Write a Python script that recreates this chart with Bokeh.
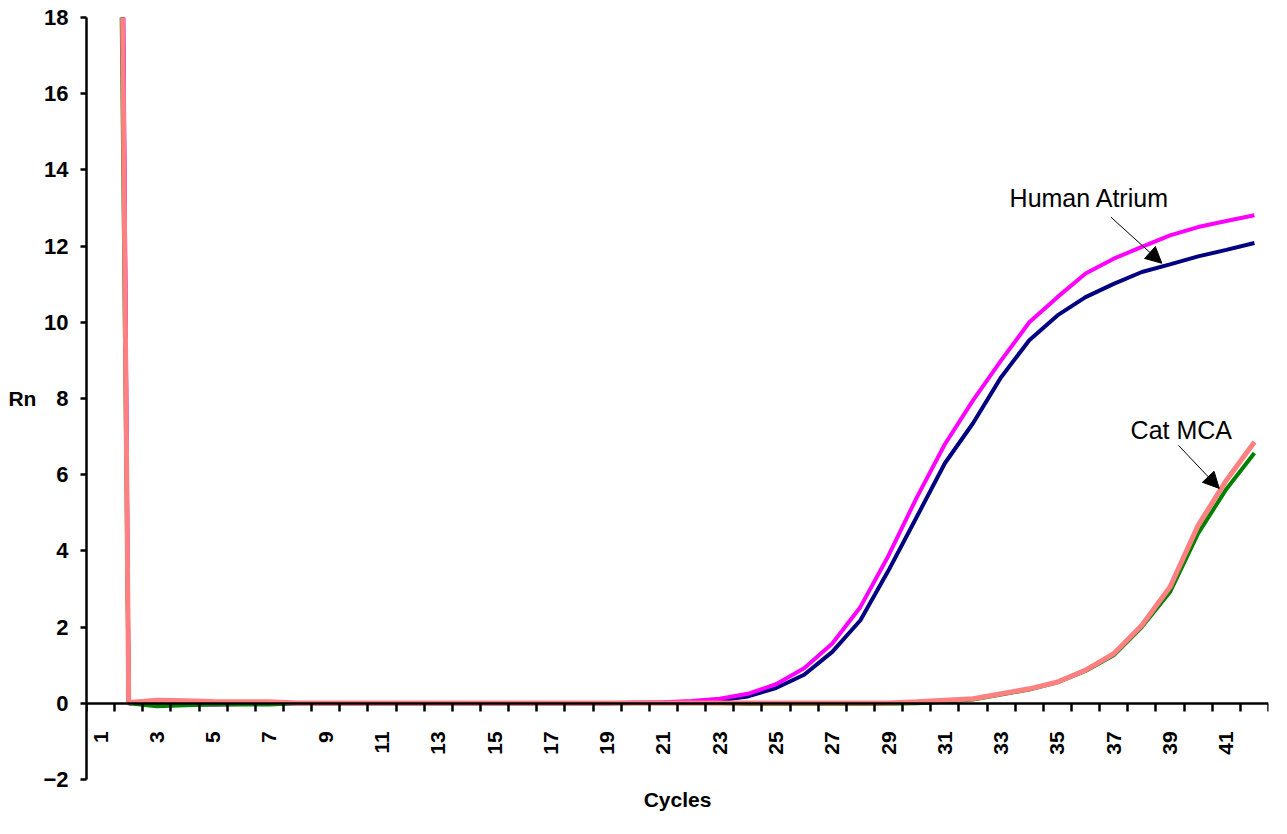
from bokeh.plotting import figure
from bokeh.models import Range1d, FixedTicker, Label, Arrow, NormalHead, Title
from bokeh.embed import file_html
from bokeh.resources import INLINE

# ---- data ----
cycles = list(range(1, 43))
tick_cycles = cycles[::2]

human_atrium_a = [95, 0.0, 0.03, 0.0, -0.04, -0.02, 0.0, 0.0, 0.0, 0.0,
                  0.0, 0.0, 0.0, 0.0, 0.0, 0.0, 0.0, 0.0, 0.0, 0.02,
                  0.03, 0.06, 0.12, 0.25, 0.5, 0.92, 1.57, 2.53, 3.88, 5.4,
                  6.8, 7.95, 9.0, 10.0, 10.66, 11.28, 11.67, 11.98, 12.28, 12.5,
                  12.66, 12.81]
human_atrium_b = [90, 0.0, 0.0, 0.0, 0.0, 0.0, 0.0, 0.0, 0.0, 0.0,
                  0.0, 0.0, 0.0, 0.0, 0.0, 0.0, 0.0, 0.0, 0.0, 0.01,
                  0.02, 0.04, 0.08, 0.18, 0.4, 0.75, 1.35, 2.18, 3.49, 4.89,
                  6.3, 7.35, 8.56, 9.53, 10.18, 10.66, 11.01, 11.32, 11.52, 11.73,
                  11.9, 12.08]
cat_mca_a = [83, 0.02, 0.08, 0.07, 0.05, 0.04, 0.04, 0.01, 0.01, 0.01,
             0.01, 0.01, 0.01, 0.01, 0.01, 0.01, 0.01, 0.01, 0.01, 0.01,
             0.01, 0.01, 0.01, 0.01, 0.01, 0.01, 0.01, 0.01, 0.01, 0.04,
             0.08, 0.12, 0.25, 0.38, 0.56, 0.87, 1.30, 2.05, 3.05, 4.67,
             5.85, 6.86]
cat_mca_b = [72, 0.0, -0.08, -0.05, -0.03, -0.03, -0.03, 0.0, 0.0, 0.0,
             0.0, 0.0, 0.0, 0.0, 0.0, 0.0, 0.0, 0.0, 0.0, 0.0,
             0.0, 0.0, 0.0, -0.02, -0.02, -0.02, -0.02, -0.02, -0.01, 0.0,
             0.04, 0.1, 0.23, 0.36, 0.55, 0.85, 1.26, 2.0, 2.92, 4.46,
             5.62, 6.57]

y_ticks = [-2, 0, 2, 4, 6, 8, 10, 12, 14, 16, 18]

FONT = "Liberation Sans"

p = figure(width=1271, height=818, output_backend="svg", toolbar_location=None,
           x_range=Range1d(0.5, 42.5), y_range=Range1d(-2, 18),
           min_border_left=86, min_border_right=3, min_border_top=17,
           min_border_bottom=39)
p.outline_line_color = None
p.grid.visible = False
p.background_fill_color = "white"

# series
p.line(cycles, human_atrium_b, line_color="#000080", line_width=4)
p.line(cycles, human_atrium_a, line_color="#FF00FF", line_width=4)
p.line(cycles, cat_mca_b, line_color="#008000", line_width=4)
p.line(cycles, cat_mca_a, line_color="#FF8080", line_width=5)

# x axis (at y = 0)
xa = p.xaxis[0]
xa.fixed_location = 0
xa.ticker = FixedTicker(ticks=tick_cycles,
                        minor_ticks=[c - 0.5 for c in cycles] + [cycles[-1] + 0.5])
xa.major_tick_out = 0
xa.major_tick_in = 0
xa.minor_tick_out = 8
xa.minor_tick_in = 0
xa.minor_tick_line_width = 2.5
xa.minor_tick_line_color = "black"
xa.axis_line_width = 2.5
xa.axis_line_color = "black"
xa.major_label_orientation = 1.5707963
xa.major_label_standoff = 20
xa.major_label_text_font = FONT
xa.major_label_text_font_style = "bold"
xa.major_label_text_font_size = "21px"
xa.major_label_text_color = "black"

# x axis title, below the frame
p.add_layout(Title(text="Cycles", align="center", standoff=12, text_font=FONT,
                   text_font_style="bold", text_font_size="21px",
                   text_color="black"), "below")

# y axis
ya = p.yaxis[0]
ya.ticker = FixedTicker(ticks=y_ticks, minor_ticks=[])
ya.major_tick_out = 6
ya.major_tick_in = 0
ya.major_tick_line_width = 2.5
ya.axis_line_width = 2.5
ya.axis_line_color = "black"
ya.major_tick_line_color = "black"
ya.major_label_standoff = 12
ya.major_label_text_font = FONT
ya.major_label_text_font_style = "bold"
ya.major_label_text_font_size = "22px"
ya.major_label_text_color = "black"
ya.axis_label = "Rn"
ya.axis_label_orientation = "horizontal"
ya.axis_label_standoff = 4
ya.axis_label_text_font = FONT
ya.axis_label_text_font_style = "bold"
ya.axis_label_text_font_size = "21px"
ya.axis_label_text_color = "black"

# annotations
p.add_layout(Label(x=33.3, y=13.25, text="Human  Atrium", text_baseline="middle",
                   text_font=FONT, text_font_size="25px", text_color="black"))
p.add_layout(Label(x=37.6, y=7.17, text="Cat MCA", text_baseline="middle",
                   text_font=FONT, text_font_size="25px", text_color="black"))
p.add_layout(Arrow(x_start=36.9, y_start=12.76, x_end=38.71, y_end=11.55,
                   line_width=1, line_color="black",
                   end=NormalHead(size=16, fill_color="black", line_color="black")))
p.add_layout(Arrow(x_start=39.3, y_start=6.77, x_end=40.75, y_end=5.64,
                   line_width=1, line_color="black",
                   end=NormalHead(size=16, fill_color="black", line_color="black")))

open("out.html", "w").write(file_html(p, INLINE))
